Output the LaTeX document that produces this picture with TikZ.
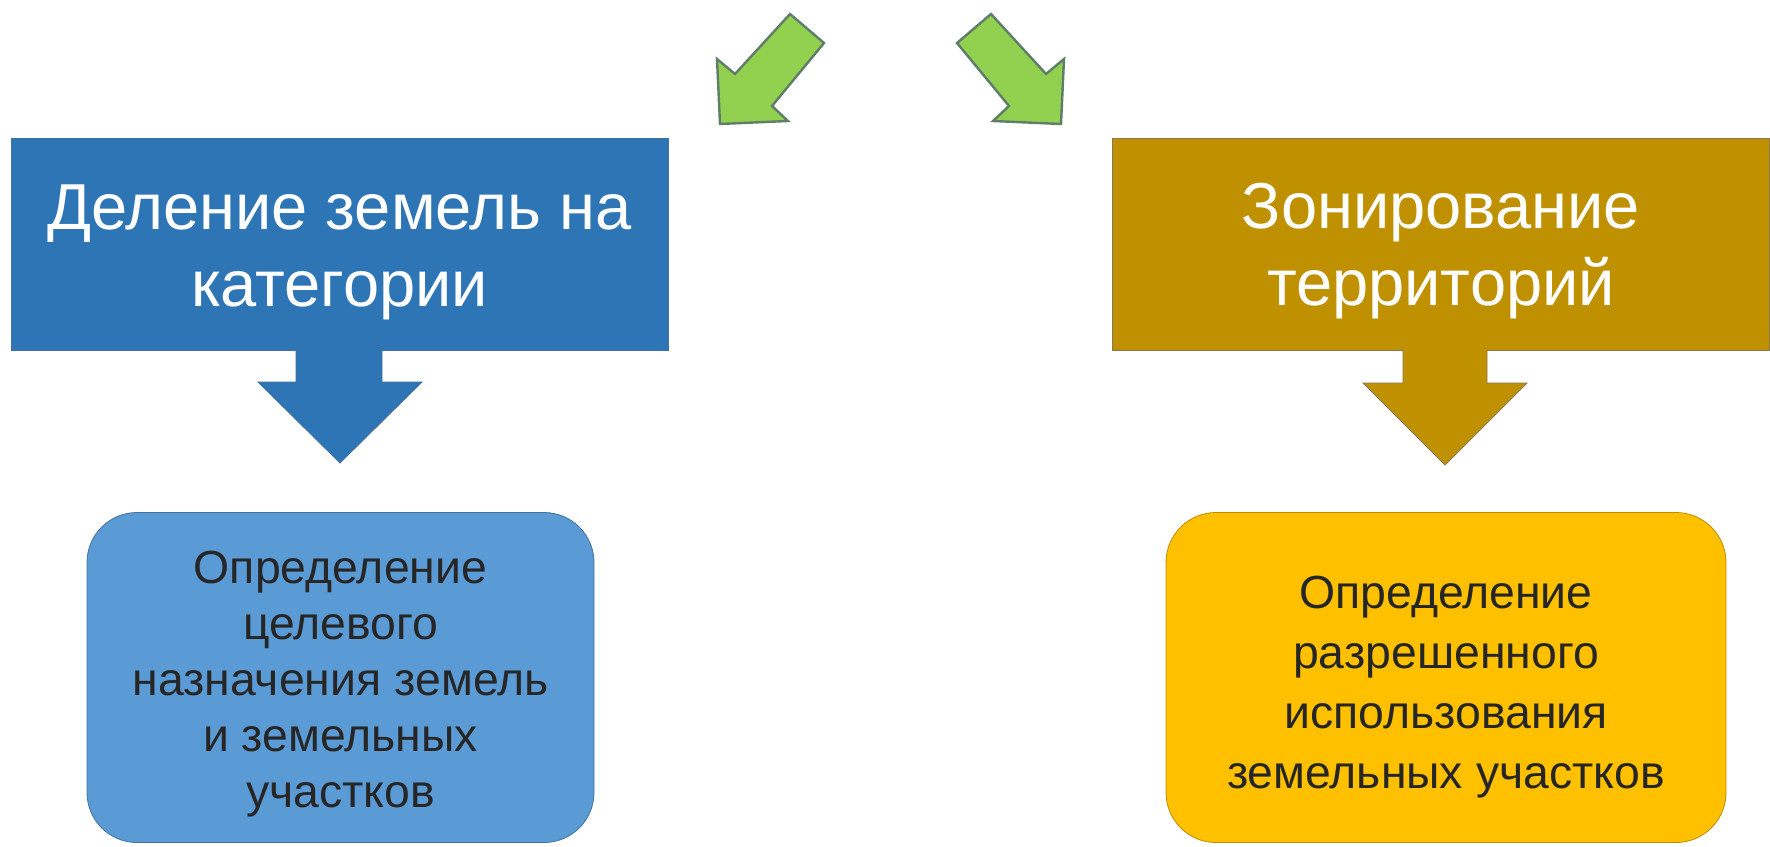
\documentclass[tikz,border=0pt]{standalone}
\usepackage{fontspec}
\setmainfont{Liberation Sans}
\newcommand{\pxsize}{0.5pt}
\definecolor{hdrblue}{RGB}{46,117,182}
\definecolor{hdrblueline}{RGB}{65,113,156}
\definecolor{boxblue}{RGB}{91,155,213}
\definecolor{hdrgold}{RGB}{191,144,0}
\definecolor{hdrgoldline}{RGB}{140,120,80}
\definecolor{boxgold}{RGB}{255,192,0}
\definecolor{boxgoldline}{RGB}{188,140,0}
\definecolor{arrgreen}{RGB}{146,208,80}
\definecolor{arrgreenline}{RGB}{95,125,105}

\begin{document}
\begin{tikzpicture}
\useasboundingbox (0,0) rectangle (1770*\pxsize,-846*\pxsize);
\tikzstyle{hdrbox}=[rectangle,
			minimum width  = 657*\pxsize,
			minimum height = 212*\pxsize,
			inner sep=0pt,
			align=center,
			text=white,
			font=\fontsize{32.5}{38.5}\selectfont
			]
\tikzstyle{subbox}=[rectangle,
			rounded corners=25pt,
			minimum height = 330*\pxsize,
			inner sep=0pt,
			align=center,
			text=black!85,
			font=\fontsize{23.2}{28}\selectfont
			]

% green arrows at the top
\draw[fill=arrgreen, draw=arrgreenline, line width=1.2pt] (720*\pxsize,-124*\pxsize) -- (717*\pxsize,-59*\pxsize) -- (735*\pxsize,-74*\pxsize) -- (790*\pxsize,-14*\pxsize) -- (824*\pxsize,-43*\pxsize) -- (772*\pxsize,-106*\pxsize) -- (788*\pxsize,-121*\pxsize) -- cycle;

\draw[fill=arrgreen, draw=arrgreenline, line width=1.2pt] (1061*\pxsize,-124*\pxsize) -- (1064*\pxsize,-59*\pxsize) -- (1046*\pxsize,-74*\pxsize) -- (991*\pxsize,-14*\pxsize) -- (957*\pxsize,-43*\pxsize) -- (1009*\pxsize,-106*\pxsize) -- (993*\pxsize,-121*\pxsize) -- cycle;

% headers
\node[hdrbox, fill=hdrblue, draw=hdrblueline, thin] (catL) at (339.5*\pxsize,-244*\pxsize) {\rule{0pt}{31pt}Деление земель на\\категории};

\node[hdrbox, fill=hdrgold, draw=hdrgoldline, thin] (zonR) at (1441*\pxsize,-244*\pxsize) {\rule{0pt}{30pt}Зонирование\\территорий};

% block arrows down
\fill[hdrblue] (296*\pxsize,-349*\pxsize) -- (296*\pxsize,-382*\pxsize) -- (258*\pxsize,-382*\pxsize) -- (340*\pxsize,-463*\pxsize) -- (422*\pxsize,-382*\pxsize) -- (382*\pxsize,-382*\pxsize) -- (382*\pxsize,-349*\pxsize) -- cycle;
\draw[hdrblueline, thin] (296*\pxsize,-350*\pxsize) -- (296*\pxsize,-382*\pxsize) -- (258*\pxsize,-382*\pxsize) -- (340*\pxsize,-463*\pxsize) -- (422*\pxsize,-382*\pxsize) -- (382*\pxsize,-382*\pxsize) -- (382*\pxsize,-350*\pxsize);

\fill[hdrgold] (1403*\pxsize,-349*\pxsize) -- (1403*\pxsize,-383*\pxsize) -- (1363*\pxsize,-383*\pxsize) -- (1445*\pxsize,-465*\pxsize) -- (1527*\pxsize,-383*\pxsize) -- (1487*\pxsize,-383*\pxsize) -- (1487*\pxsize,-349*\pxsize) -- cycle;
\draw[hdrgoldline, thin] (1403*\pxsize,-350*\pxsize) -- (1403*\pxsize,-383*\pxsize) -- (1363*\pxsize,-383*\pxsize) -- (1445*\pxsize,-465*\pxsize) -- (1527*\pxsize,-383*\pxsize) -- (1487*\pxsize,-383*\pxsize) -- (1487*\pxsize,-350*\pxsize);

% lower boxes
\node[subbox, fill=boxblue, draw=hdrblueline, thin, minimum width=507*\pxsize] (purL) at (340.5*\pxsize,-677.5*\pxsize) {\rule{0pt}{23pt}Определение\\целевого\\назначения земель\\и земельных\\участков};

\node[subbox, fill=boxgold, draw=boxgoldline, thin, minimum width=560*\pxsize, font=\fontsize{23.2}{30}\selectfont] (useR) at (1446*\pxsize,-677.5*\pxsize) {\rule{0pt}{26pt}Определение\\разрешенного\\использования\\земельных участков};

\end{tikzpicture}
\end{document}
